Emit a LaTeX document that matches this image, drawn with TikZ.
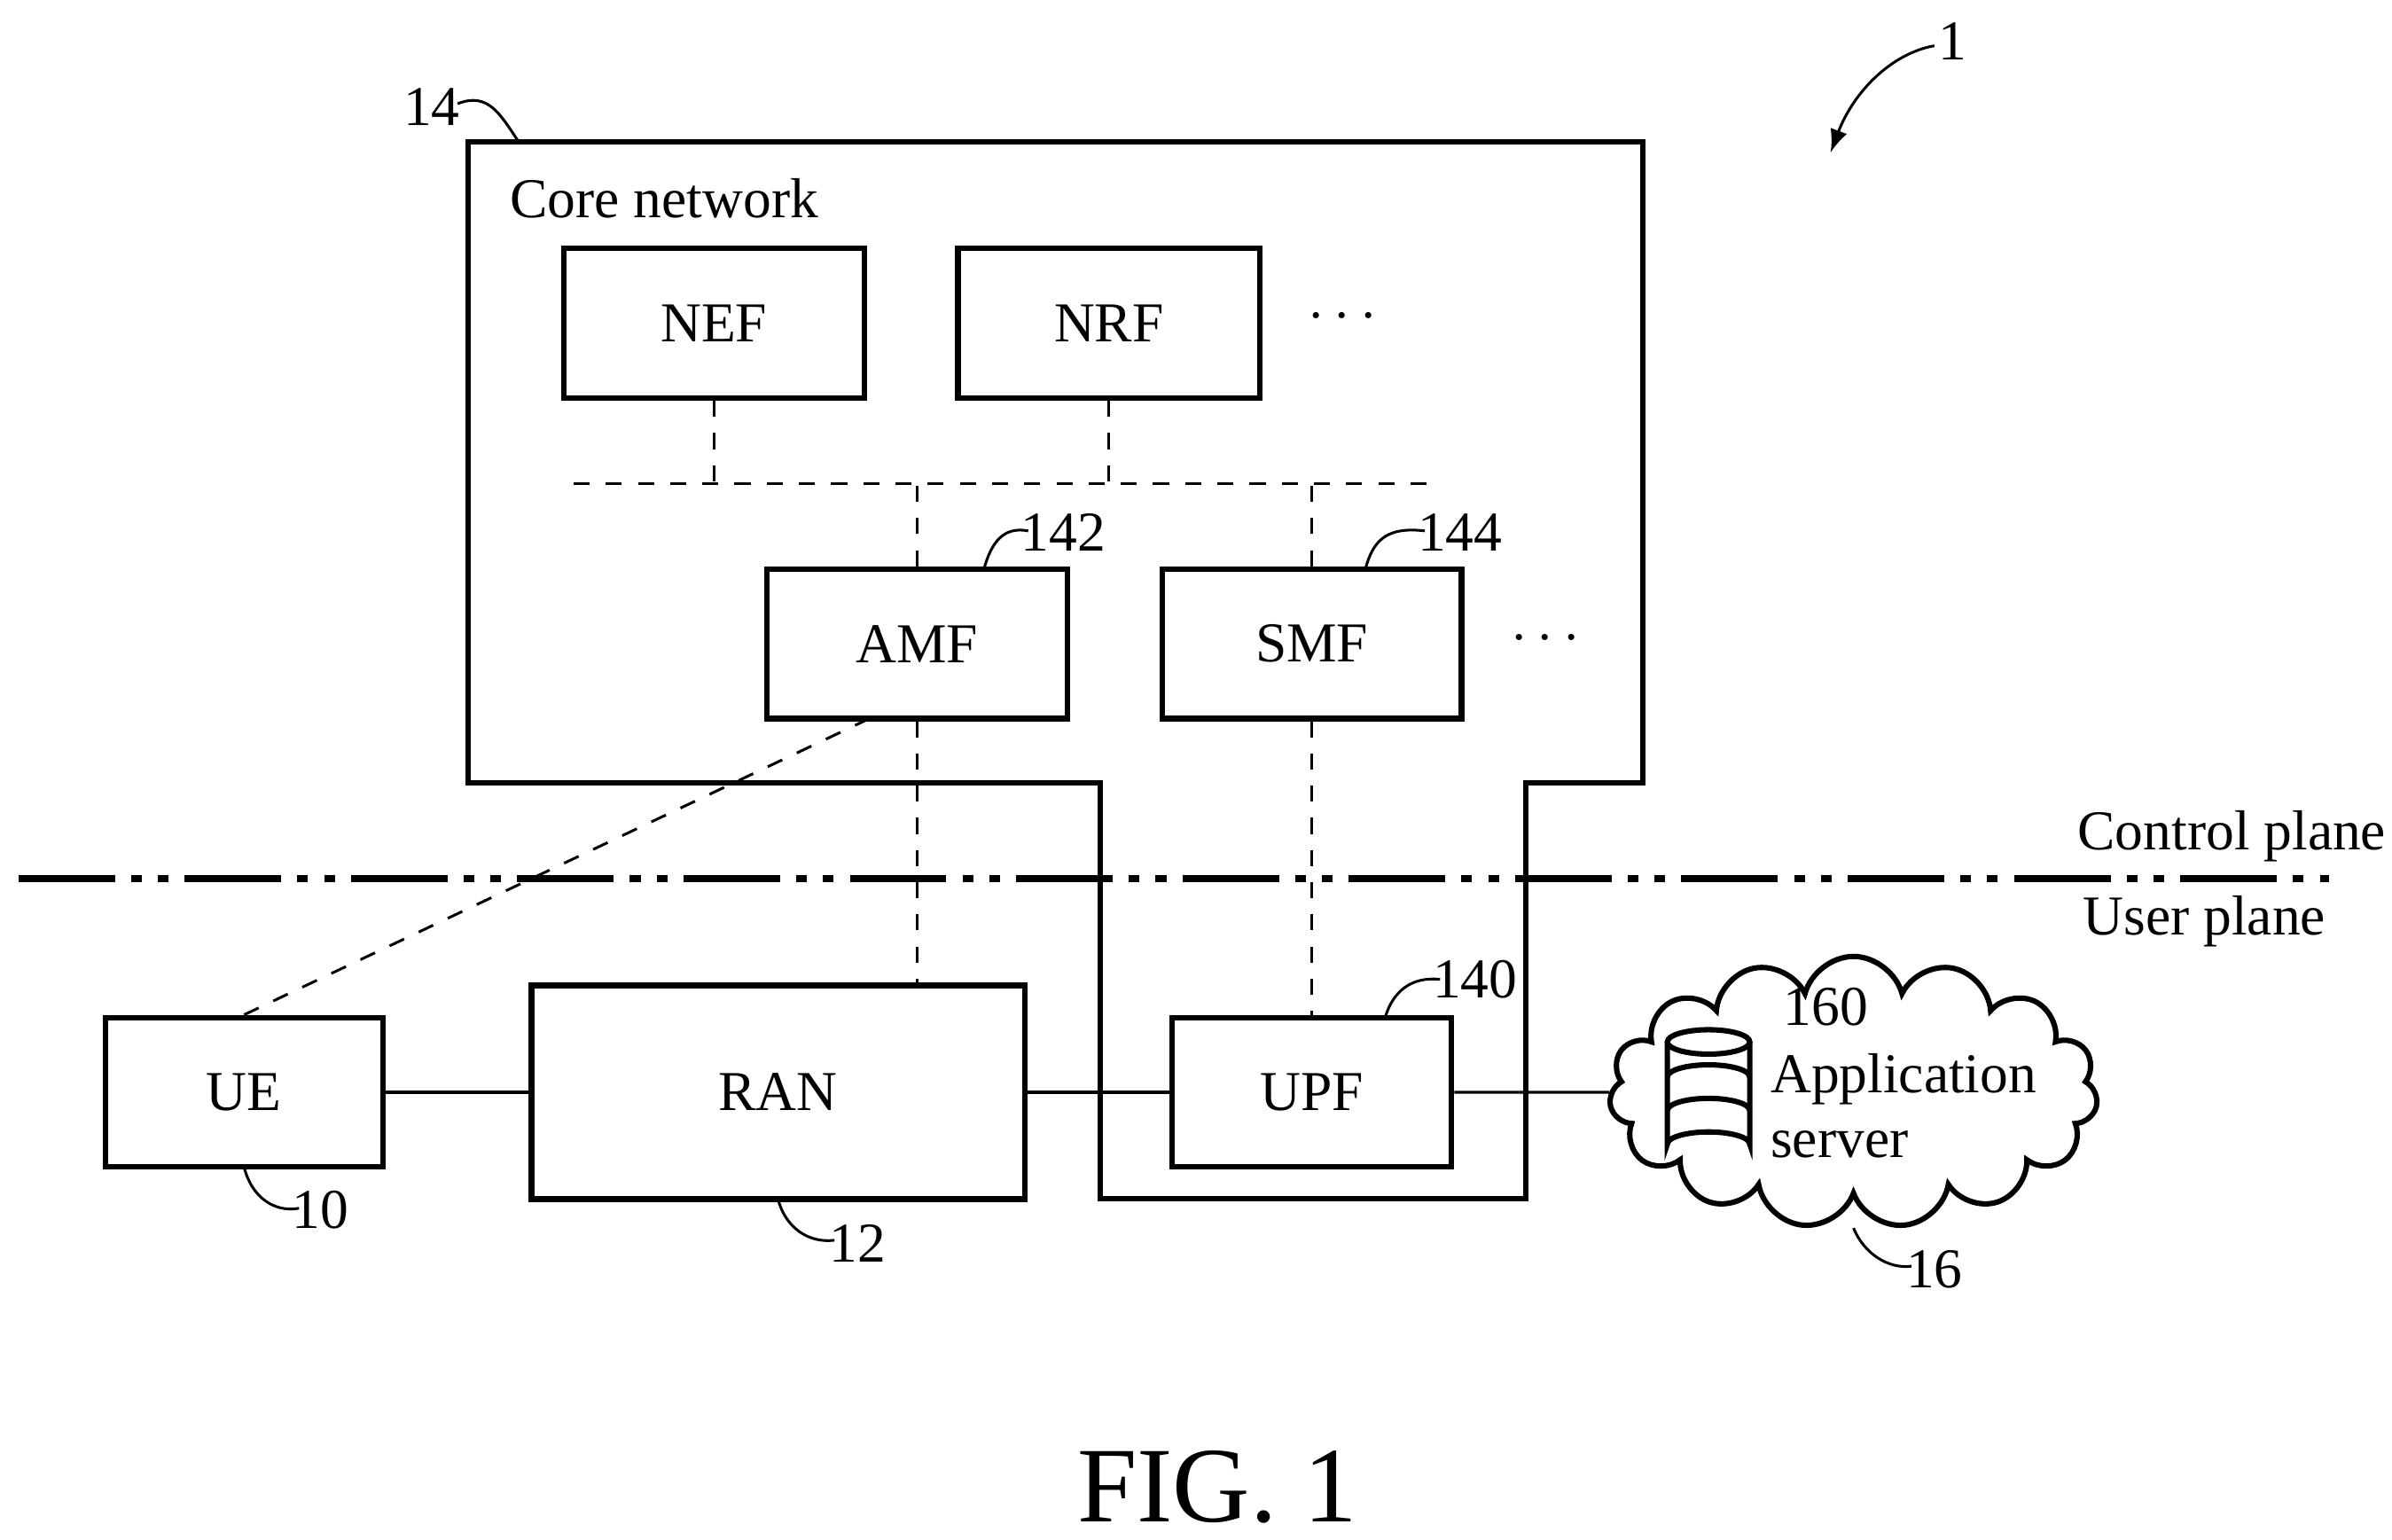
\documentclass[tikz,border=0pt]{standalone}
\usepackage{fontspec}
\setmainfont{Liberation Serif}
\usetikzlibrary{shapes.symbols}
\begin{document}
\begin{tikzpicture}
  [x=0.01cm,y=-0.01cm,font=\fontsize{10.5}{12}\selectfont]
      \tikzstyle{box_style} = [draw=black, line width=1pt, inner sep=0pt]
      \tikzstyle{dash_style} = [draw=black, dashed, line width=0.5pt]
      \tikzstyle{lead_style} = [draw=black, line width=0.5pt]
  \useasboundingbox (0,0) rectangle (1568,1009);
  % core network outline
  \draw[line width=1pt] (307,93) -- (1077,93) -- (1077,513) -- (1000,513) -- (1000,786)
    -- (721,786) -- (721,513) -- (307,513) -- cycle;
  \node[anchor=west] (core) at (322,130) {Core network};
  \node (n14) at (283,70) {14};
  \draw[lead_style] (300,68) .. controls (320,60) and (328,75) .. (340,93);
  % functions
  \node[box_style, minimum width=1.97cm, minimum height=0.98cm] (nef) at (468,212) {NEF};
  \node[box_style, minimum width=1.98cm, minimum height=0.98cm] (nrf) at (727,212) {NRF};
  \node (dots1) at (880,208) {$\cdots$};
  \node[box_style, minimum width=1.97cm, minimum height=0.98cm] (amf) at (601,422) {AMF};
  \node[box_style, minimum width=1.96cm, minimum height=0.98cm] (smf) at (860,422) {SMF};
  \node (dots2) at (1013,419) {$\cdots$};
  \coordinate (busl) at (376,317);
  \coordinate (busr) at (938,317);
  \draw[dash_style] (busl) -- (busr);
  \draw[dash_style] (nef.south) -- (nef.south |- busl);
  \draw[dash_style] (nrf.south) -- (nrf.south |- busl);
  \draw[dash_style] (amf.north) -- (amf.north |- busl);
  \draw[dash_style] (smf.north) -- (smf.north |- busl);
  \node (n142) at (697,349) {142};
  \draw[lead_style] (645,373) .. controls (650,355) and (658,345) .. (674,348);
  \node (n144) at (957,349) {144};
  \draw[lead_style] (895,373) .. controls (900,355) and (908,345) .. (934,348);
  % user plane nodes
  \node[box_style, minimum width=1.82cm, minimum height=0.98cm] (ue) at (160,716) {UE};
  \node[box_style, minimum width=3.23cm, minimum height=1.4cm] (ran) at (510,716) {RAN};
  \node[box_style, minimum width=1.83cm, minimum height=0.98cm] (upf) at (860,716) {UPF};
  \node[cloud, cloud puffs=15, aspect=1.9, draw, line width=1pt, minimum width=3.2cm, minimum height=1.78cm] (cloud) at (1215,716) {};
  \draw[dash_style] (amf.south) -- (ran.north -| amf.south);
  \draw[dash_style] (smf.south) -- (upf.north);
  \draw[dash_style] (570,471) -- (ue.north);
  \draw[lead_style] (ue) -- (ran);
  \draw[lead_style] (ran) -- (upf);
  \draw[lead_style] (upf) -- (cloud.west);
  % database
  \draw[line width=1pt, fill=white] (1093,683) -- (1093,750) arc[start angle=180, end angle=360, x radius=27, y radius=8]
    -- (1147,683);
  \draw[line width=1pt] (1120,683) ellipse[x radius=27, y radius=8];
  \draw[line width=1pt] (1093,706) arc[start angle=180, end angle=360, x radius=27, y radius=8];
  \draw[line width=1pt] (1093,728) arc[start angle=180, end angle=360, x radius=27, y radius=8];
  \node (n160) at (1197,660) {160};
  \node[anchor=west, align=left, inner sep=0pt] (app) at (1160,725) {Application\\server};
  % planes
  \draw[line width=1.2pt, dash pattern=on 18pt off 3pt on 2pt off 3pt on 2pt off 3pt] (12,576) -- (1527,576);
  \node (cp) at (1463,548) {Control plane};
  \node (up) at (1445,604) {User plane};
  % reference numerals
  \node (n10) at (210,793) {10};
  \draw[lead_style] (160,765) .. controls (165,785) and (180,795) .. (196,792);
  \node (n12) at (562,815) {12};
  \draw[lead_style] (510,786) .. controls (515,805) and (530,815) .. (547,813);
  \node (n140) at (967,642) {140};
  \draw[lead_style] (908,667) .. controls (913,650) and (925,640) .. (944,642);
  \node (n16) at (1268,832) {16};
  \draw[lead_style] (1215,805) .. controls (1222,822) and (1238,832) .. (1253,830);
  \node (n1) at (1280,27) {1};
  \draw[lead_style, -latex] (1268,30) .. controls (1240,35) and (1215,60) .. (1200,100);
  \node[font=\fontsize{20}{24}\selectfont] (fig) at (798,975) {FIG. 1};
\end{tikzpicture}
\end{document}
